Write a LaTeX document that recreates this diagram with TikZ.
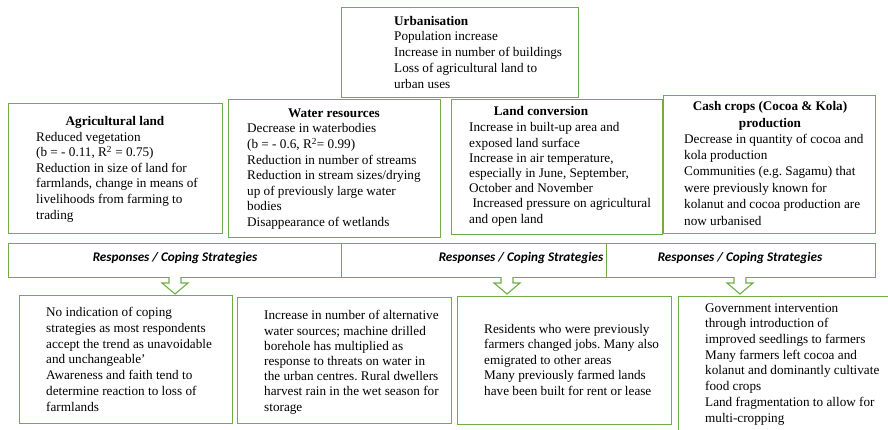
\documentclass[tikz,border=0pt]{standalone}
\usepackage{fontspec}
\setmainfont{Liberation Serif}
\newfontfamily\respfont{Carlito}
\definecolor{boxgreen}{HTML}{70AD47}
\frenchspacing
\begin{document}
\begin{tikzpicture}[x=1pt,y=-1pt,
  box/.style={draw=boxgreen, line width=1.1pt, fill=white, inner sep=0pt, anchor=north west},
  body/.style={inner sep=0pt, anchor=base west, align=left, font=\frenchspacing\fontsize{13.2}{#1}\selectfont},
  body/.default={15.6},
  ttl/.style={inner sep=0pt, anchor=base, align=center, font=\fontsize{13.2}{16.3}\selectfont\bfseries},
  resp/.style={inner sep=0pt, anchor=base, font=\respfont\fontsize{13.2}{15}\selectfont\bfseries\itshape},
  blockarrow/.style={draw=boxgreen, line width=1.1pt, fill=white, line join=miter}
]
\useasboundingbox (0,0) rectangle (888,429);
\clip (0,0) rectangle (888,429);

% top box
\node[box, minimum width=237pt, minimum height=90pt] (urb) at (341,7) {};
\node[body=15.75] (urbt) at (394,88) {\textbf{Urbanisation}\\Population increase\\Increase in number of buildings\\Loss of agricultural land to\\urban uses};

% impact boxes
\node[box, minimum width=214pt, minimum height=130pt] (agr) at (8,103) {};
\node[box, minimum width=212pt, minimum height=138pt] (wat) at (228,99) {};
\node[box, minimum width=211pt, minimum height=135pt] (lan) at (451,99) {};
\node[box, minimum width=212pt, minimum height=138pt] (cas) at (663,95) {};

\node[ttl] (agrh) at (115,125) {Agricultural land};
\node[body=15.6] (agrt) at (36,219) {Reduced vegetation\\(b = - 0.11, R\textsuperscript{2} = 0.75)\\Reduction in size of land for\\farmlands, change in means of\\livelihoods from farming to\\trading};

\node[ttl] (wath) at (334,117) {Water resources};
\node[body=15.6] (watt) at (247,226.5) {Decrease in waterbodies\\(b = - 0.6, R\textsuperscript{2}= 0.99)\\Reduction in number of streams\\Reduction in stream sizes/drying\\up of previously large water\\bodies\\Disappearance of wetlands};

\node[ttl] (lanh) at (541,115) {Land conversion};
\node[body=15.2] (lant) at (469,223) {Increase in built-up area and\\exposed land surface\\Increase in air temperature,\\especially in June, September,\\October and November\\\hspace*{3.3pt}Increased pressure on agricultural\\and open land};

\node[ttl] (cash) at (770,127) {Cash crops (Cocoa \& Kola)\\production};
\node[body=16.4] (cast) at (684,225) {Decrease in quantity of cocoa and\\kola production\\Communities (e.g. Sagamu) that\\were previously known for\\kolanut and cocoa production are\\now urbanised};

% response bars
\node[box, minimum width=333pt, minimum height=34pt] (r1) at (8,243) {};
\node[box, minimum width=265pt, minimum height=34pt] (r2) at (341,243) {};
\node[box, minimum width=269pt, minimum height=34pt] (r3) at (606,243) {};
\node[resp] (r1t) at (175,261.5) {Responses / Coping Strategies};
\node[resp] (r2t) at (521,261.5) {Responses / Coping Strategies};
\node[resp] (r3t) at (740,261.5) {Responses / Coping Strategies};

% block arrows
\foreach \ax/\nm in {175/a1,507/a2,740/a3}{
  \coordinate (\nm) at (\ax,277);
  \draw[blockarrow] ([xshift=-6pt]\nm) -- ++(0,6) -- ++(-7,0) -- ++(13,11) -- ++(13,-11) -- ++(-7,0) -- ++(0,-6);
}

% response boxes
\node[box, minimum width=213pt, minimum height=128pt] (ba) at (19,295) {};
\node[box, minimum width=214pt, minimum height=126pt] (bb) at (237,297) {};
\node[box, minimum width=214pt, minimum height=128pt] (bc) at (457,296) {};
\node[box, minimum width=240pt, minimum height=160pt] (bd) at (678,296) {};

\node[body=15.7] (bat) at (46,411) {No indication of coping\\strategies as most respondents\\accept the trend as unavoidable\\and unchangeable'\\Awareness and faith tend to\\determine reaction to loss of\\farmlands};
\node[body=15.2] (bbt) at (264,411) {Increase in number of alternative\\water sources; machine drilled\\borehole has multiplied as\\response to threats on water in\\the urban centres. Rural dwellers\\harvest rain in the wet season for\\storage};
\node[body=15.5] (bct) at (484,395) {Residents who were previously\\farmers changed jobs. Many also\\emigrated to other areas\\Many previously farmed lands\\have been built for rent or lease};
\node[body=15.7] (bdt) at (705,422) {Government intervention\\through introduction of\\improved seedlings to farmers\\Many farmers left cocoa and\\kolanut and dominantly cultivate\\food crops\\Land fragmentation to allow for\\multi-cropping};
\end{tikzpicture}
\end{document}
